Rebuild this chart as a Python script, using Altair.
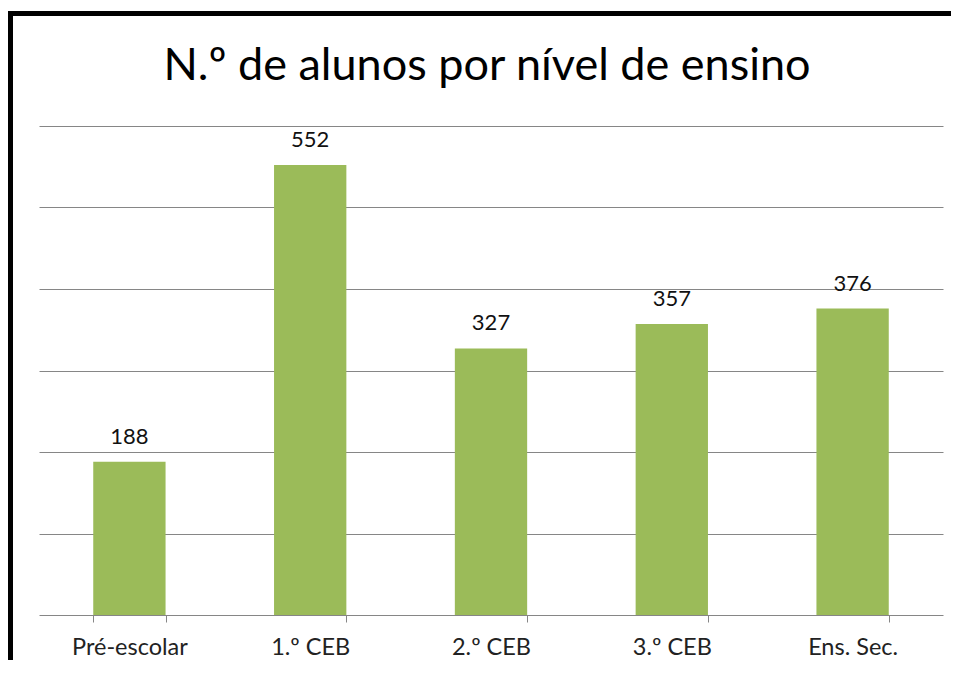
import altair as alt
import pandas as pd

categories = ["Pré-escolar", "1.º CEB", "2.º CEB", "3.º CEB", "Ens. Sec."]
values = [188, 552, 327, 357, 376]
title_text = ["N.º de alunos por nível de ensino"]

df = pd.DataFrame({"nivel": categories, "alunos": values})

FONT = "Lato"

x_enc = alt.X(
    "nivel:N",
    sort=categories,
    scale=alt.Scale(paddingInner=0.6, paddingOuter=0.3),
    axis=alt.Axis(
        title=None,
        labelAngle=0,
        labelFont=FONT,
        labelFontSize=23.5,
        labelColor="#222222",
        labelPadding=13,
        domainColor="#868686",
        tickColor="#868686",
        tickSize=7,
        tickBand="extent",
        grid=False,
    ),
)
y_enc = alt.Y(
    "alunos:Q",
    scale=alt.Scale(domain=[0, 600]),
    axis=alt.Axis(
        title=None,
        values=[100, 200, 300, 400, 500, 600],
        labels=False,
        ticks=False,
        domain=False,
        grid=True,
        gridColor="#868686",
        gridWidth=1,
    ),
)

base = alt.Chart(df)

bars = base.mark_bar(color="#9BBB59").encode(x=x_enc, y=y_enc)

text = base.mark_text(
    font=FONT, fontSize=22, color="#111111", baseline="alphabetic", dy=-18
).encode(x=alt.X("nivel:N", sort=categories), y="alunos:Q", text="alunos:Q")

title = alt.Chart(pd.DataFrame({"t": title_text})).mark_text(
    font=FONT, fontSize=45, color="#000000", baseline="alphabetic", align="center"
).encode(x=alt.value(448), y=alt.value(-46), text="t:N")

border_left = alt.Chart(pd.DataFrame({"a": [0]})).mark_rule(
    color="black", strokeWidth=5
).encode(x=alt.value(-28.5), y=alt.value(-115), y2=alt.value(560))

border_top = alt.Chart(pd.DataFrame({"a": [0]})).mark_rule(
    color="black", strokeWidth=5
).encode(x=alt.value(-31), x2=alt.value(930), y=alt.value(-112.5))

chart = (
    alt.layer(bars, text, title, border_left, border_top)
    .properties(
        width=904,
        height=489,
        autosize=alt.AutoSizeParams(type="none"),
        padding={"left": 31, "top": 118, "right": 8, "bottom": 45},
        view=alt.ViewBackground(strokeOpacity=0, strokeWidth=0),
    )
    .configure_view(strokeWidth=0, strokeOpacity=0)
    .configure(background="white")
)

chart.save("out.html", embed_options={"renderer": "svg", "actions": False})
